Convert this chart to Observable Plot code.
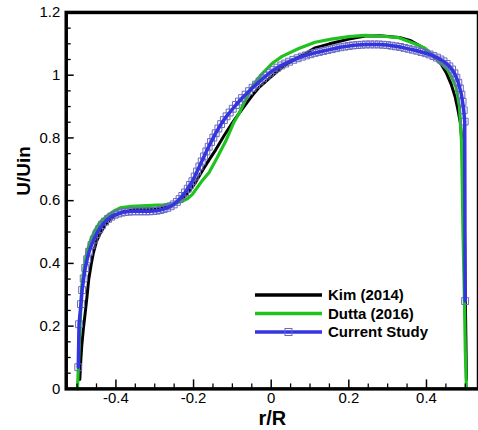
<!DOCTYPE html>
<html>
<head>
<meta charset="utf-8">
<script src="https://cdn.jsdelivr.net/npm/d3@7"></script>
<script src="https://cdn.jsdelivr.net/npm/@observablehq/plot@0.6"></script>
<style>
  html, body { margin: 0; padding: 0; overflow: hidden; background: #fff; }
  #wrap { position: relative; width: 478px; height: 430px; overflow: hidden; }
  #legend { position: absolute; left: 0; top: 0; pointer-events: none; }
</style>
</head>
<body>
<div id="wrap"><div id="chart"></div><svg id="legend" width="478" height="430"></svg></div>
<script>
// ---- data ----
const seriesNames = ["Kim (2014)", "Dutta (2016)", "Current Study"];
const seriesColors = ["#000000", "#1fc21f", "#3434e0"];

const rKim = [-0.493,-0.49,-0.488,-0.484,-0.479,-0.474,-0.47,-0.464,-0.458,-0.45,-0.44,-0.428,-0.415,-0.4,-0.38,-0.35,-0.32,-0.29,-0.26,-0.24,-0.22,-0.205,-0.194,-0.175,-0.16,-0.143,-0.12,-0.1,-0.092,-0.07,-0.049,-0.032,0.0,0.028,0.053,0.08,0.113,0.15,0.2,0.242,0.28,0.33,0.36,0.395,0.42,0.438,0.452,0.464,0.474,0.481,0.487,0.492,0.497,0.5,0.503];
const uKim = [0.03,0.1,0.137,0.19,0.243,0.3,0.349,0.395,0.434,0.47,0.497,0.522,0.54,0.555,0.565,0.572,0.574,0.576,0.584,0.598,0.618,0.64,0.66,0.7,0.73,0.762,0.81,0.848,0.862,0.9,0.935,0.96,0.995,1.025,1.045,1.063,1.087,1.1,1.115,1.125,1.126,1.12,1.11,1.085,1.06,1.035,1.005,0.97,0.93,0.89,0.85,0.78,0.6,0.3,0.03];

const rDutta = [-0.499,-0.497,-0.494,-0.491,-0.488,-0.482,-0.475,-0.465,-0.453,-0.44,-0.424,-0.405,-0.389,-0.36,-0.32,-0.278,-0.25,-0.23,-0.215,-0.203,-0.18,-0.16,-0.14,-0.117,-0.096,-0.083,-0.065,-0.049,-0.025,0.002,0.028,0.071,0.113,0.155,0.2,0.242,0.28,0.327,0.37,0.395,0.421,0.44,0.455,0.466,0.476,0.485,0.49,0.4915,0.494,0.4975,0.5,0.503];
const uDutta = [0.0,0.06,0.15,0.24,0.328,0.385,0.434,0.475,0.508,0.533,0.55,0.567,0.577,0.582,0.584,0.587,0.59,0.598,0.607,0.62,0.66,0.69,0.735,0.79,0.85,0.878,0.925,0.963,1.003,1.037,1.06,1.085,1.105,1.115,1.123,1.127,1.125,1.12,1.1,1.087,1.058,1.035,1.016,0.99,0.963,0.9,0.794,0.7,0.5,0.3,0.12,0.0];

const rCurrent = [-0.497,-0.495,-0.490,-0.487,-0.483,-0.479,-0.474,-0.469,-0.463,-0.457,-0.450,-0.443,-0.436,-0.428,-0.420,-0.412,-0.403,-0.394,-0.385,-0.376,-0.367,-0.358,-0.349,-0.340,-0.331,-0.322,-0.313,-0.304,-0.295,-0.286,-0.277,-0.268,-0.259,-0.251,-0.243,-0.236,-0.229,-0.222,-0.215,-0.209,-0.203,-0.197,-0.191,-0.185,-0.179,-0.173,-0.167,-0.161,-0.155,-0.149,-0.143,-0.136,-0.129,-0.122,-0.115,-0.107,-0.099,-0.091,-0.083,-0.075,-0.066,-0.057,-0.048,-0.039,-0.030,-0.021,-0.012,-0.003,0.006,0.016,0.026,0.036,0.046,0.057,0.068,0.079,0.090,0.101,0.112,0.123,0.134,0.145,0.156,0.167,0.178,0.189,0.200,0.211,0.222,0.233,0.244,0.255,0.266,0.277,0.288,0.299,0.310,0.321,0.332,0.343,0.354,0.365,0.376,0.387,0.398,0.408,0.418,0.427,0.436,0.444,0.452,0.459,0.466,0.472,0.477,0.482,0.486,0.490,0.493,0.496,0.4985,0.4995];
const uCurrent = [0.069,0.206,0.270,0.315,0.352,0.385,0.413,0.437,0.458,0.476,0.494,0.509,0.522,0.533,0.542,0.549,0.555,0.559,0.562,0.564,0.565,0.566,0.566,0.566,0.566,0.566,0.566,0.567,0.568,0.570,0.573,0.577,0.582,0.588,0.596,0.605,0.615,0.626,0.638,0.650,0.662,0.677,0.693,0.709,0.725,0.741,0.757,0.772,0.787,0.801,0.815,0.830,0.844,0.857,0.869,0.881,0.893,0.905,0.916,0.927,0.938,0.949,0.960,0.970,0.980,0.990,0.999,1.008,1.016,1.024,1.031,1.037,1.043,1.049,1.054,1.059,1.063,1.067,1.071,1.074,1.077,1.080,1.083,1.086,1.089,1.091,1.093,1.095,1.096,1.097,1.098,1.098,1.098,1.098,1.097,1.096,1.094,1.092,1.090,1.087,1.084,1.081,1.078,1.074,1.070,1.066,1.061,1.056,1.050,1.044,1.036,1.028,1.018,1.006,0.992,0.976,0.958,0.938,0.915,0.888,0.852,0.280];

const xTickValues = [-0.4, -0.2, 0, 0.2, 0.4];
const yTickValues = [0, 0.2, 0.4, 0.6, 0.8, 1, 1.2];
const xMinorTicks = [-0.5,-0.45,-0.35,-0.3,-0.25,-0.15,-0.1,-0.05,0.05,0.1,0.15,0.25,0.3,0.35,0.45,0.5];
const yMinorTicks = [0.05,0.1,0.15,0.25,0.3,0.35,0.45,0.5,0.55,0.65,0.7,0.75,0.85,0.9,0.95,1.05,1.1,1.15];
const xLabel = "r/R";
const yLabel = "U/Uin";

// ---- build tables ----
const kim = rKim.map((r, i) => ({r, u: uKim[i]}));
const dutta = rDutta.map((r, i) => ({r, u: uDutta[i]}));
const current = rCurrent.map((r, i) => ({r, u: uCurrent[i]}));

const W = 480, H = 430, mL = 66, mR = 0, mT = 12, mB = 40;
const pw = W - mL - mR, ph = H - mT - mB;

const chart = Plot.plot({
  width: W, height: H,
  marginLeft: mL, marginRight: mR, marginTop: mT, marginBottom: mB,
  style: {fontFamily: "Arial, 'Liberation Sans', sans-serif", fontSize: "15px", background: "white", color: "black", overflow: "visible"},
  x: {domain: [-0.528, 0.534]},
  y: {domain: [0, 1.2]},
  marks: [
    Plot.line(kim, {x: "r", y: "u", stroke: seriesColors[0], strokeWidth: 3}),
    Plot.line(dutta, {x: "r", y: "u", stroke: seriesColors[1], strokeWidth: 3.2}),
    Plot.dot(current, {x: "r", y: "u", symbol: "square", r: 3.9, stroke: "#6a6ac0", strokeWidth: 1, fill: "none"}),
    Plot.line(current, {x: "r", y: "u", stroke: seriesColors[2], strokeWidth: 3.5}),
    Plot.frame({stroke: "black", strokeWidth: 3.5}),
    Plot.tickX(xTickValues, {x: d => d, insetTop: ph - 9, stroke: "black", strokeWidth: 1.5}),
    Plot.tickX(xMinorTicks, {x: d => d, insetTop: ph - 5, stroke: "black", strokeWidth: 1.3}),
    Plot.tickY(yTickValues, {y: d => d, insetRight: pw - 8, stroke: "black", strokeWidth: 1.5}),
    Plot.tickY(yMinorTicks, {y: d => d, insetRight: pw - 5, stroke: "black", strokeWidth: 1.3}),
    Plot.axisX(xTickValues, {tickSize: 0, tickPadding: 4, label: null, tickFormat: d => String(d), fontSize: 15}),
    Plot.axisY(yTickValues, {tickSize: 0, tickPadding: 6, label: null, tickFormat: d => String(d), fontSize: 15}),
    Plot.text([xLabel], {text: d => d, frameAnchor: "bottom", dy: 30, fontSize: 20, fontWeight: "bold", lineAnchor: "middle"}),
    Plot.text([yLabel], {text: d => d, frameAnchor: "left", dx: -42, dy: -5, rotate: -90, fontSize: 19, fontWeight: "bold", lineAnchor: "middle"})
  ]
});
document.getElementById("chart").appendChild(chart);

// ---- legend (inside plot, lower right) ----
const lg = d3.select("#legend");
const legX0 = 255, legX1 = 322, legY0 = 295, legDy = 18.5;
seriesNames.forEach((name, i) => {
  const y = legY0 + i * legDy;
  lg.append("line").attr("x1", legX0).attr("x2", legX1).attr("y1", y).attr("y2", y)
    .attr("stroke", seriesColors[i]).attr("stroke-width", 3.5);
  if (i === 2) {
    lg.append("rect").attr("x", (legX0 + legX1) / 2 - 3.5).attr("y", y - 3.5).attr("width", 7).attr("height", 7)
      .attr("fill", "none").attr("stroke", "#6a6ac0").attr("stroke-width", 1);
  }
  lg.append("text").attr("x", 328).attr("y", y).attr("dy", "0.36em")
    .attr("font-family", "Arial, 'Liberation Sans', sans-serif").attr("font-size", 15).attr("font-weight", "bold")
    .text(name);
});
</script>
</body>
</html>
